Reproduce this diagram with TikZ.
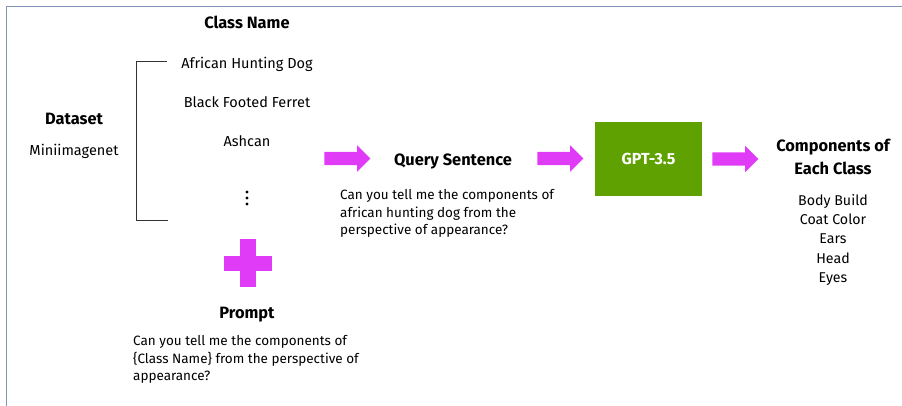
\documentclass[tikz,border=0pt]{standalone}
\usepackage{fontspec}
\setmainfont{Fira Sans}
\usetikzlibrary{shapes.arrows}

\begin{document}
\begin{tikzpicture}[x=1pt,y=-1pt]

% Colours
\definecolor{colMag}{HTML}{E03CF8}
\definecolor{colGpt}{HTML}{5EA100}
\definecolor{colFrame}{HTML}{8193B6}
\definecolor{colBrk}{HTML}{333333}

\tikzset{
  title/.style={font=\fontsize{16.4}{19}\selectfont\bfseries},
  plain/.style={font=\fontsize{14.5}{18}\selectfont},
  para/.style={font=\fontsize{13.5}{17.8}\selectfont, align=left, anchor=north west, inner sep=0pt},
  bigarrow/.style={single arrow, fill=colMag, draw=none, inner xsep=0pt, inner ysep=6.5pt,
    minimum width=26pt, minimum height=46pt, single arrow head extend=6.5pt},
}

\useasboundingbox (0,0) rectangle (902,406);

% Frame (top and left only)
\draw[colFrame, line width=0.8pt] (6,406) -- (6,6) -- (902,6);

% Dataset
\node[title] (dataset) at (74,119) {Dataset};
\node[plain] (mini) at (74,151) {Miniimagenet};

% Class names
\node[title] (clsHead) at (247,22) {Class Name};
\node[plain] (cls1) at (247,64) {African Hunting Dog};
\node[plain] (cls2) at (247,102) {Black Footed Ferret};
\node[plain] (cls3) at (247,141) {Ashcan};
\foreach \y in {192,198,204}
  \fill (247,\y) circle (1.7);

% Bracket
\draw[colBrk, line width=1pt] (167,62) -- (136,62) -- (136,221) -- (168,221);

% Plus
\fill[colMag] (224,256) rectangle (272,271);
\fill[colMag] (240,239) rectangle (256,287);

% Prompt
\node[title] (prompt) at (247,315) {Prompt};
\node[para] (promptTxt) at (133,335)
  {Can you tell me the components of\\\{Class Name\} from the perspective of\\appearance?};

% Query sentence
\node[bigarrow] (arrA) at (344,158.5) {};
\node[title] (query) at (453,161) {Query Sentence};
\node[para] (queryTxt) at (340,189)
  {Can you tell me the components of\\african hunting dog from the\\perspective of appearance?};

% GPT
\node[bigarrow] (arrB) at (557,158.5) {};
\node[fill=colGpt, minimum width=107, minimum height=74, text=white,
  font=\fontsize{16}{19}\selectfont\bfseries] (gpt) at (648.5,159) {GPT-3.5};

% Components
\node[bigarrow] (arrC) at (732,159) {};
\node[align=center, font=\fontsize{16.4}{23}\selectfont\bfseries] (compHead) at (833,157)
  {Components of\\Each Class};
\node[align=center, font=\fontsize{14.2}{19.3}\selectfont, anchor=north, inner sep=0pt] (compList) at (833,194)
  {Body Build\\Coat Color\\Ears\\Head\\Eyes};

\end{tikzpicture}
\end{document}
